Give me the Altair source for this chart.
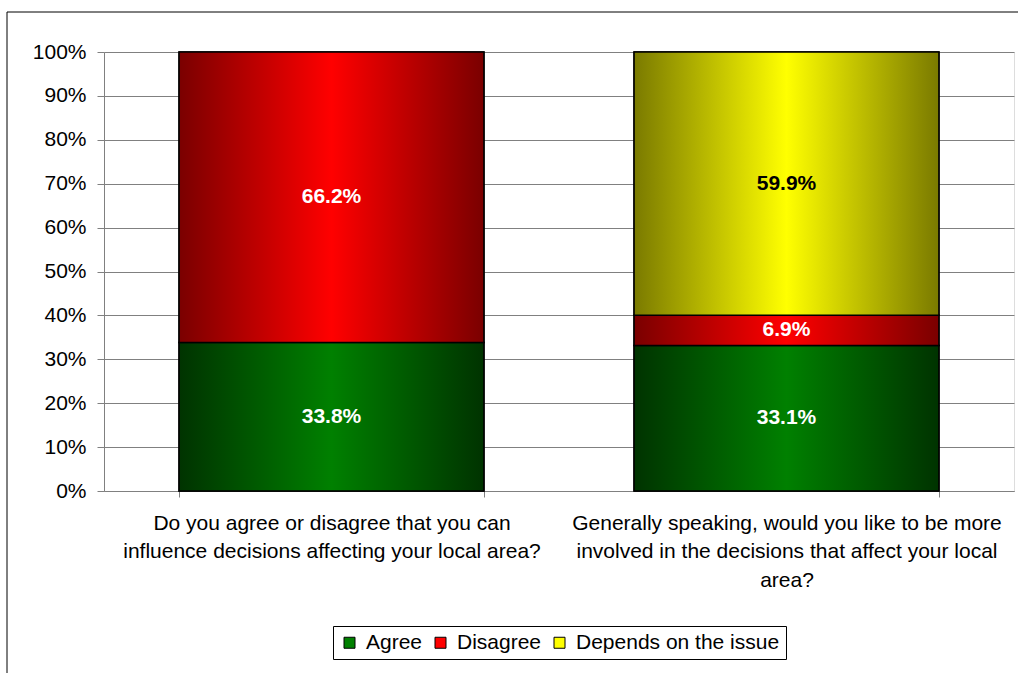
import altair as alt
import pandas as pd

FONT = "Liberation Sans"

questions = [
    "Do you agree or disagree that you can|influence decisions affecting your local area?",
    "Generally speaking, would you like to be more|involved in the decisions that affect your local|area?",
]
series = ["Agree", "Disagree", "Depends on the issue"]
q1_values = [33.8, 66.2]
q2_values = [33.1, 6.9, 59.9]
solid_colors = ["#008000", "#FF0000", "#FFFF00"]
dark_colors = ["#003300", "#7A0000", "#7A7A00"]

rows = []
for q, vals in zip(questions, [q1_values, q2_values]):
    for i, v in enumerate(vals):
        rows.append({"question": q, "series": series[i], "order": i, "value": v})
df = pd.DataFrame(rows)

base = alt.Chart(df).transform_stack(
    stack="value",
    groupby=["question"],
    as_=["y0", "y1"],
    offset="normalize",
    sort=[alt.SortField("order", order="ascending")],
).transform_calculate(
    mid="(datum.y0 + datum.y1) / 2",
    label="format(datum.value, '.1f') + '%'",
)

x_enc = alt.X(
    "question:N",
    sort=questions,
    scale=alt.Scale(paddingInner=0.33, paddingOuter=0.165),
    axis=alt.Axis(
        title=None,
        labelExpr="split(datum.label, '|')",
        labelAngle=0,
        labelBaseline="top",
        labelLineHeight=28.5,
        labelPadding=15,
        labelFontSize=21,
        labelFont=FONT,
        labelColor="black",
        labelLimit=1000,
        tickBand="extent",
        tickSize=6,
        tickColor="#808080",
        domainColor="#808080",
        grid=False,
    ),
)

y_enc = alt.Y(
    "y0:Q",
    scale=alt.Scale(domain=[0, 1], nice=False),
    axis=alt.Axis(
        title=None,
        format=".0%",
        values=[i / 10 for i in range(11)],
        labelFontSize=21,
        labelFont=FONT,
        labelColor="black",
        labelPadding=11,
        tickSize=7,
        tickColor="#808080",
        domainColor="#808080",
        gridColor="#808080",
        gridWidth=1,
    ),
)

legend_layer = base.mark_bar(stroke="black", strokeWidth=1.5).encode(
    x=x_enc,
    y=y_enc,
    y2="y1:Q",
    color=alt.Color(
        "series:N",
        sort=series,
        scale=alt.Scale(domain=series, range=solid_colors),
        legend=alt.Legend(
            orient="none",
            legendX=229,
            legendY=574,
            direction="horizontal",
            title=None,
            strokeColor="black",
            padding=6,
            symbolType="square",
            symbolSize=121,
            symbolStrokeColor="black",
            symbolStrokeWidth=1,
            labelFontSize=21,
            labelFont=FONT,
            labelColor="black",
            labelLimit=1000,
            columnPadding=7,
            labelOffset=6,
        ),
    ),
)

grad_layers = []
for s, dark, bright in zip(series, dark_colors, solid_colors):
    grad = alt.Gradient(
        gradient="linear",
        stops=[
            alt.GradientStop(color=dark, offset=0),
            alt.GradientStop(color=bright, offset=0.5),
            alt.GradientStop(color=dark, offset=1),
        ],
        x1=0, x2=1, y1=0, y2=0,
    )
    grad_layers.append(
        base.transform_filter(alt.datum.series == s)
        .mark_bar(color=grad, stroke="black", strokeWidth=1.5)
        .encode(x=alt.X("question:N", sort=questions), y="y0:Q", y2="y1:Q")
    )

text_layer = base.mark_text(
    font=FONT, fontSize=21, fontWeight="bold", baseline="middle", align="center"
).encode(
    x=alt.X("question:N", sort=questions),
    y=alt.Y("mid:Q"),
    text="label:N",
    color=alt.condition(
        alt.datum.series == "Depends on the issue", alt.value("black"), alt.value("white")
    ),
)

frame = alt.Chart(pd.DataFrame({"a": [0]})).mark_rect(
    fill="transparent", stroke="black", strokeWidth=1
).encode(
    x=alt.value(-97), x2=alt.value(930), y=alt.value(-40), y2=alt.value(700)
)

chart = alt.layer(frame, legend_layer, *grad_layers, text_layer).properties(
    width=910,
    height=439,
    padding={"left": 104, "top": 52, "right": 4, "bottom": 182},
    autosize=alt.AutoSizeParams(type="none"),
).configure_view(stroke=None).configure(font=FONT, background="white")

chart.save("out.html", embed_options={"renderer": "svg", "actions": False})
